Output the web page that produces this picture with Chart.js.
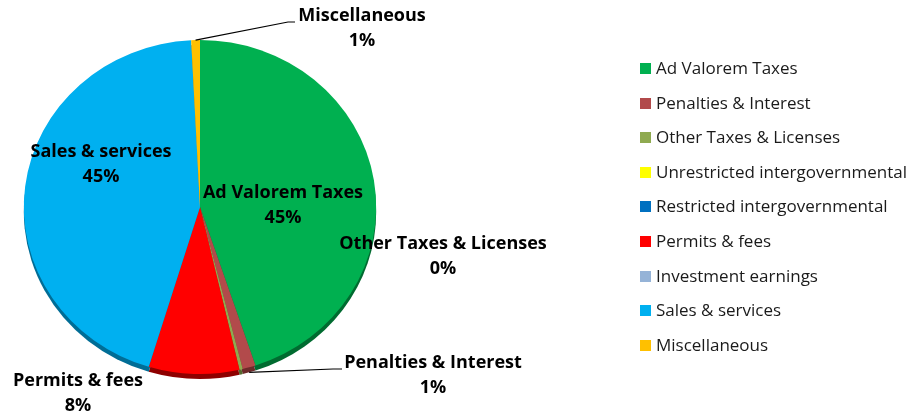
<!DOCTYPE html>
<html>
<head>
<meta charset="utf-8">
<script src="https://cdn.jsdelivr.net/npm/chart.js"></script>
<style>
  html, body { margin: 0; padding: 0; background: #fff; }
  #wrap { position: relative; width: 913px; height: 417px; }
  #revChart { position: absolute; left: 0; top: 0; }
  #legend { position: absolute; left: 640px; top: 0; font-family: "Open Sans", Lato, sans-serif; font-size: 17px; color: #1a1a1a; }
  .item { position: absolute; left: 0; white-space: nowrap; height: 20px; line-height: 20px; }
  .item span.box { position: absolute; left: 0; top: 5px; width: 11px; height: 11px; }
  .item span.txt { position: absolute; left: 16px; top: 0; }
</style>
</head>
<body>
<div id="wrap">
  <canvas id="revChart" width="913" height="417"></canvas>
  <div id="legend"></div>
</div>
<script>
// ---- data ----
const categories = [
  'Ad Valorem Taxes',
  'Penalties & Interest',
  'Other Taxes & Licenses',
  'Unrestricted intergovernmental',
  'Restricted intergovernmental',
  'Permits & fees',
  'Investment earnings',
  'Sales & services',
  'Miscellaneous'
];
const sharePct = [44.9, 1.2, 0.3, 0, 0, 8.3, 0, 44.5, 0.8];
const showLabel = [true, true, true, false, false, true, false, true, true];

// ---- styles ----
const sliceColors = ['#00B050', '#B24A4B', '#8FAA50', '#FFFF00', '#0070C0', '#FF0000', '#95B3D7', '#00B0F0', '#FFC000'];
const rimColors   = ['#006B30', '#6E2A2A', '#55692E', '#A0A000', '#003F70', '#8E0000', '#5B7090', '#006D96', '#9E7600'];

// label text centre (name line) and optional leader-line elbow
const labelLayout = [
  { x: 283, y: 193 },
  { x: 433, y: 363, elbow: [333, 369], end: [342, 369] },
  { x: 443, y: 244 },
  null,
  null,
  { x: 78,  y: 381 },
  null,
  { x: 101, y: 152 },
  { x: 362, y: 16,  elbow: [288, 22], end: [295, 22] }
];

const SCALE_X = 1.055;   // pie is slightly wider than tall
const RIM = 5;           // thickness of the dark 3D edge

const pie3d = {
  id: 'pie3d',
  beforeDatasetsDraw(chart) {
    const ctx = chart.ctx;
    const arcs = chart.getDatasetMeta(0).data;
    const cx = arcs[0].x, cy = arcs[0].y;
    ctx.save();
    ctx.translate(cx, cy);
    ctx.scale(SCALE_X, 1);
    ctx.translate(-cx, -cy);
    // dark rim underneath
    arcs.forEach((a, i) => {
      if (a.endAngle - a.startAngle <= 0) return;
      ctx.beginPath();
      ctx.moveTo(a.x, a.y + RIM);
      ctx.arc(a.x, a.y + RIM, a.outerRadius, a.startAngle, a.endAngle);
      ctx.closePath();
      ctx.fillStyle = rimColors[i];
      ctx.fill();
    });
  },
  afterDatasetsDraw(chart) {
    const ctx = chart.ctx;
    ctx.restore();
    const arcs = chart.getDatasetMeta(0).data;
    ctx.save();
    ctx.fillStyle = '#000';
    ctx.textAlign = 'center';
    ctx.textBaseline = 'middle';
    ctx.font = 'bold 18px "Open Sans", Lato, sans-serif';
    arcs.forEach((a, i) => {
      const lay = labelLayout[i];
      if (!showLabel[i] || !lay) return;
      if (lay.elbow) {
        const mid = (a.startAngle + a.endAngle) / 2;
        const sx = a.x + Math.cos(mid) * a.outerRadius * SCALE_X;
        const sy = a.y + Math.sin(mid) * a.outerRadius + (Math.sin(mid) > 0 ? RIM : 0);
        ctx.beginPath();
        ctx.moveTo(sx, sy);
        ctx.lineTo(lay.elbow[0], lay.elbow[1]);
        ctx.lineTo(lay.end[0], lay.end[1]);
        ctx.strokeStyle = '#000';
        ctx.lineWidth = 1.2;
        ctx.stroke();
      }
      ctx.fillText(categories[i], lay.x, lay.y);
      ctx.fillText(Math.round(sharePct[i]) + '%', lay.x, lay.y + 25);
    });
    ctx.restore();
  }
};

new Chart(document.getElementById('revChart'), {
  type: 'pie',
  data: {
    labels: categories,
    datasets: [{
      data: sharePct,
      backgroundColor: sliceColors,
      borderWidth: 0
    }]
  },
  options: {
    responsive: false,
    animation: false,
    layout: { padding: { left: 33, right: 546, top: 40, bottom: 43 } },
    plugins: {
      legend: { display: false },
      tooltip: { enabled: false }
    }
  },
  plugins: [pie3d]
});

// legend (HTML, built from the same arrays)
const legend = document.getElementById('legend');
categories.forEach((name, i) => {
  const row = document.createElement('div');
  row.className = 'item';
  row.style.top = (58 + i * 34.6) + 'px';
  const box = document.createElement('span');
  box.className = 'box';
  box.style.background = sliceColors[i];
  const txt = document.createElement('span');
  txt.className = 'txt';
  txt.textContent = name;
  row.appendChild(box);
  row.appendChild(txt);
  legend.appendChild(row);
});
</script>
</body>
</html>
